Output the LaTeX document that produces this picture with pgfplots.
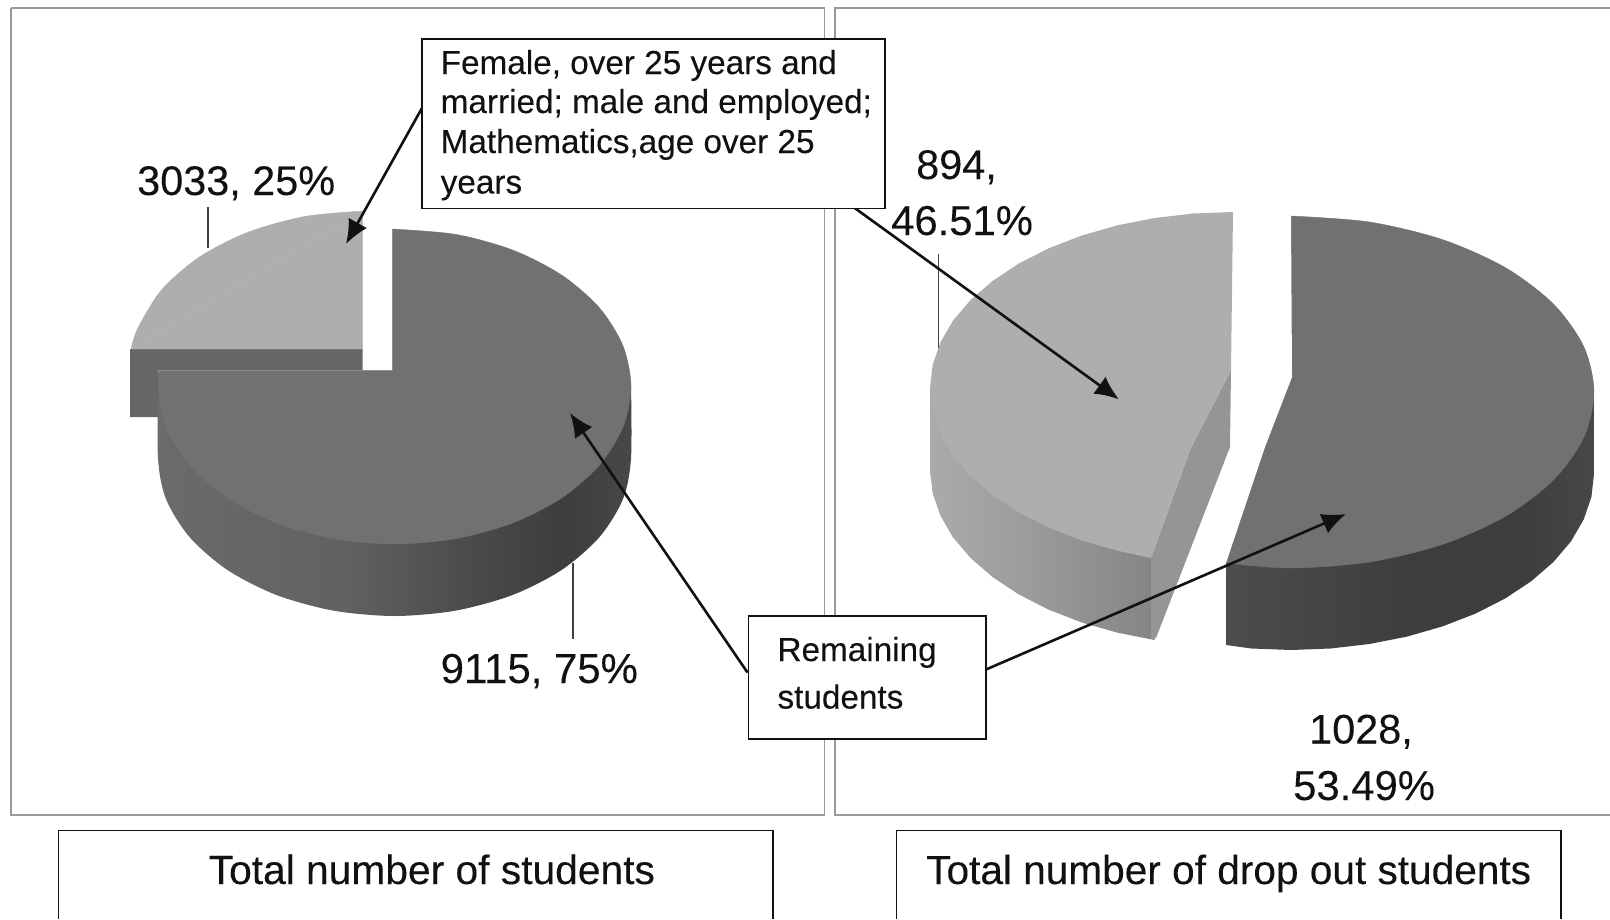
\documentclass[border=0pt]{standalone}
\usepackage{pgfplots}
\pgfplotsset{compat=1.18}
\usetikzlibrary{arrows.meta}
\usepackage{fontspec}
\setmainfont[FakeBold=0.15]{Liberation Sans}
\definecolor{lightface}{HTML}{AEAEAE}
\definecolor{darkface}{HTML}{717171}
\definecolor{underface}{HTML}{666666}
\definecolor{cutface}{HTML}{959595}
\definecolor{frame}{HTML}{9A9A9A}
\definecolor{ink}{HTML}{111111}
\pgfdeclarehorizontalshading{leftwall}{100bp}{color(0bp)=(black!58);color(25bp)=(black!58);color(45bp)=(black!62);color(60bp)=(black!72);color(68bp)=(black!76);color(75bp)=(black!72);color(100bp)=(black!72)}
\pgfdeclarehorizontalshading{lightwall}{100bp}{color(0bp)=(black!33);color(25bp)=(black!33);color(50bp)=(black!40);color(75bp)=(black!48);color(100bp)=(black!48)}
\pgfdeclarehorizontalshading{rightwall}{100bp}{color(0bp)=(black!70);color(25bp)=(black!70);color(50bp)=(black!76);color(65bp)=(black!76);color(75bp)=(black!72);color(100bp)=(black!72)}
\newcommand{\lab}[3]{\node[anchor=base west,inner sep=0pt,text=ink,font=\fontsize{#3}{#3}\selectfont] at (axis cs:#1) {#2};}
\begin{document}
\begin{tikzpicture}[x=1pt,y=1pt]
\useasboundingbox (0,0) rectangle (1610pt,919pt);
\begin{axis}[at={(0pt,0pt)},anchor=south west,scale only axis,width=1610pt,height=919pt,
  xmin=0,xmax=1610,ymin=0,ymax=919,y dir=reverse,hide axis,clip=true]
% panel frames
\addplot[draw=frame,line width=1.6pt] coordinates {(11,8) (824.5,8) (824.5,815) (11,815) (11,8)};
\addplot[draw=frame,line width=1.6pt] coordinates {(1610,8) (835,8) (835,815) (1610,815)};
% caption boxes
\addplot[draw=ink,line width=1.3pt] coordinates {(58.5,919) (58.5,830.7) (773,830.7) (773,919)};
\addplot[draw=ink,line width=1.3pt] coordinates {(896.5,919) (896.5,830.7) (1561,830.7) (1561,919)};
% left pie: wall
\addplot[smooth,shading=leftwall,draw=none] coordinates {(158,386) (158,458.5) (166.1,499.3) (189.7,537.25) (227.3,569.9) (276.2,594.9) (333.3,610.6) (394.5,616) (455.7,610.6) (512.8,594.9) (561.7,569.9) (599.3,537.25) (622.9,499.3) (631,458.5) (631,386)};
% left pie: face
\addplot[smooth,fill=darkface,draw=darkface,line width=.4pt] coordinates {(392,229) (455.7,234.4) (512.8,250.1) (561.7,275.1) (599.3,307.75) (622.9,345.7) (631,386.5) (622.9,427.3) (599.3,465.25) (561.7,497.9) (512.8,522.9) (455.7,538.6) (394.5,544) (333.3,538.6) (276.2,522.9) (227.3,497.9) (189.7,465.25) (166.1,427.3) (158,386.5) (158.8,370)};
\addplot[fill=white,draw=white,line width=.4pt] coordinates {(392,228) (392,370) (157,370)} --cycle;
% left pie: small slice
\addplot[fill=underface,draw=none] coordinates {(130,349) (362.5,349) (362.5,370) (158,370) (158,417) (130,417)} --cycle;
\addplot[fill=lightface,draw=lightface,line width=.4pt] coordinates {(131,349) (362.5,349) (362.5,211.1)} --cycle;
\addplot[smooth,fill=lightface,draw=lightface,line width=.4pt] coordinates {(362.5,211.1) (305.3,216.4) (248.2,232.1) (199.3,257.1) (161.7,289.75) (138.1,327.7) (131,349)};
% right pie: dark slice
\addplot[shading=rightwall,draw=none] coordinates {(1226,560) (1226,645) (1251.5,648.5) (1291,650) (1330.5,648.5) (1369.4,644) (1407,636.6) (1442.5,626.4) (1475.5,613.6) (1505.3,598.4) (1531.4,581.1) (1553.4,562) (1571,541.4) (1583.7,519.5) (1591.4,497) (1594,474) (1594,392)} --cycle;
\addplot[smooth,fill=darkface,draw=darkface,line width=.4pt] coordinates {(1291,216) (1369.4,222) (1442.5,239.6) (1505.3,267.6) (1553.4,304) (1583.7,346.5) (1594,392) (1583.7,437.5) (1553.4,480) (1505.3,516.4) (1442.5,544.4) (1369.4,562) (1291,568) (1226,563)};
\addplot[fill=white,draw=none] coordinates {(1290,214) (1291,216) (1292,377) (1265,447) (1226,563) (1224,563)} --cycle;
% right pie: light slice
\addplot[shading=lightwall,draw=none] coordinates {(930,388) (930,470) (932.6,493) (940.3,515.5) (953,537.4) (970.6,558) (992.6,577.1) (1018.7,594.4) (1048.5,609.6) (1081.5,622.4) (1117,632.6) (1154.6,640) (1154,558)} --cycle;
\addplot[fill=cutface,draw=none] coordinates {(1151,558) (1190,450) (1231,370) (1230,447) (1156,638) (1151,639)} --cycle;
\addplot[fill=lightface,draw=none] coordinates {(1233,212) (1193.5,213.5) (1154.6,218) (1117,225.4) (1081.5,235.6) (1048.5,248.4) (1018.7,263.6) (992.6,280.9) (970.6,300) (953,320.6) (940.3,342.5) (932.6,365) (930,388) (932.6,411) (940.3,433.5) (953,455.4) (970.6,476) (992.6,495.1) (1018.7,512.4) (1048.5,527.6) (1081.5,540.4) (1117,550.6) (1151,558) (1190,450) (1231,370)} --cycle;
% leader lines
\addplot[draw=ink!80,line width=1.2pt] coordinates {(208,207) (208,248)};
\addplot[draw=ink!80,line width=1.2pt] coordinates {(573,563) (573,639)};
\addplot[draw=ink!80,line width=1.2pt] coordinates {(938.5,254) (938.5,348)};
% arrows
\addplot[draw=ink,line width=2.6pt,-{Latex[length=24pt,width=21pt]}] coordinates {(422,108) (346,244)};
\addplot[draw=ink,line width=2.6pt,-{Latex[length=24pt,width=21pt]}] coordinates {(854,207.5) (1119,399.4)};
\addplot[draw=ink,line width=2.6pt,-{Latex[length=24pt,width=21pt]}] coordinates {(747.5,672.5) (570,413)};
\addplot[draw=ink,line width=2.6pt,-{Latex[length=24pt,width=21pt]}] coordinates {(986,669.5) (1346,514)};
% callout boxes
\addplot[fill=white,draw=ink,line width=1.5pt] coordinates {(422,39) (885,39) (885,208.5) (422,208.5)} --cycle;
\addplot[fill=white,draw=ink,line width=1.5pt] coordinates {(748.5,616) (986,616) (986,739) (748.5,739)} --cycle;
% text
\lab{440.5,74}{Female, over 25 years and}{33.3}
\lab{440.5,113}{married; male and employed;}{33.3}
\lab{440.5,153}{Mathematics,age over 25}{33.3}
\lab{440.5,193.5}{years}{33.3}
\lab{777.3,661}{Remaining}{33.3}
\lab{777.3,708.5}{students}{33.3}
\lab{137,195}{3033, 25\%}{41.4}
\lab{440.5,683}{9115, 75\%}{41.9}
\lab{916,179}{894,}{41.4}
\lab{891,235}{46.51\%}{41.8}
\lab{1309,743.5}{1028,}{41.4}
\lab{1293,800}{53.49\%}{41.8}
\lab{208.5,884}{Total number of students}{40.75}
\lab{926,884}{Total number of drop out students}{40.6}
\end{axis}
\end{tikzpicture}
\end{document}
